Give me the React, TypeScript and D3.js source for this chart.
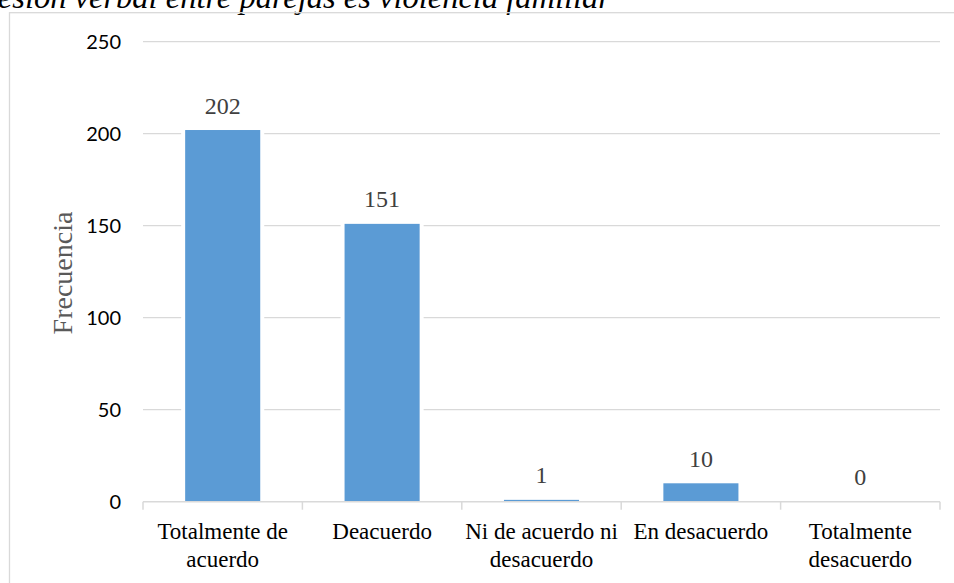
import React from "react";
import * as d3 from "d3";

const categories: string[][] = [
  ["Totalmente de", "acuerdo"],
  ["Deacuerdo"],
  ["Ni de acuerdo ni", "desacuerdo"],
  ["En desacuerdo"],
  ["Totalmente", "desacuerdo"],
];
const values: number[] = [202, 151, 1, 10, 0];
const yTicks: number[] = [0, 50, 100, 150, 200, 250];
const titleText = "Figura 1. La agresión verbal entre parejas es violencia familiar";
const yTitle = "Frecuencia";

export default function App() {
  const W = 954, H = 583;
  const x0 = 143, x1 = 940, yTop = 41.7, yBase = 501.7;
  const keys = categories.map((_, i) => String(i));
  const x = d3.scaleBand<string>().domain(keys).range([x0, x1]).paddingInner(0.529).paddingOuter(0.2645);
  const y = d3.scaleLinear().domain([0, 250]).range([yBase, yTop]);
  const step = x.step();
  const bw = x.bandwidth();
  const serif = "'Liberation Serif', 'Times New Roman', serif";
  const sans = "Lato, 'Liberation Sans', sans-serif";
  return (
    <svg width={W} height={H} style={{ position: "fixed", left: 0, top: 0, background: "#fff" }}>
      <rect x={0} y={0} width={W} height={H} fill="#fff" />
      <text x={611} y={7.5} textAnchor="end" fontFamily={serif} fontStyle="italic" fontSize={32.5} fill="#000">
        {titleText}
      </text>
      <rect x={9.5} y={12.7} width={1000} height={700} fill="none" stroke="#d9d9d9" strokeWidth={1.3} />
      {yTicks.map((t) => (
        <g key={t}>
          {t > 0 && <line x1={x0} x2={x1} y1={y(t)} y2={y(t)} stroke="#d9d9d9" strokeWidth={1.3} />}
          <text x={121} y={y(t)} dy="0.35em" textAnchor="end" fontFamily={sans} fontSize={20} fill="#000">
            {t}
          </text>
        </g>
      ))}
      <text
        transform={`translate(72,273) rotate(-90)`}
        textAnchor="middle"
        fontFamily={serif}
        fontSize={28}
        fill="#595959"
      >
        {yTitle}
      </text>
      {values.map((v, i) => {
        const bx = x(String(i))!;
        return (
          <g key={i}>
            {v > 0 && <rect x={bx - 4} y={y(v)} width={bw + 8} height={yBase - y(v)} fill="#fff" />}
            <rect x={bx} y={y(v)} width={bw} height={yBase - y(v)} fill="#5b9bd5" />
            <text x={bx + bw / 2} y={y(v) - 16.5} textAnchor="middle" fontFamily={serif} fontSize={24} fill="#404040">
              {v}
            </text>
          </g>
        );
      })}
      <line x1={x0} x2={x1} y1={yBase} y2={yBase} stroke="#d9d9d9" strokeWidth={1.5} />
      {d3.range(categories.length + 1).map((i) => (
        <line key={i} x1={x0 + i * step} x2={x0 + i * step} y1={yBase} y2={yBase + 8} stroke="#d9d9d9" strokeWidth={1.5} />
      ))}
      {categories.map((lines, i) => (
        <text key={i} textAnchor="middle" fontFamily={serif} fontSize={23} fill="#000">
          {lines.map((l, j) => (
            <tspan key={j} x={x(String(i))! + bw / 2} y={539.3 + j * 27.5}>
              {l}
            </tspan>
          ))}
        </text>
      ))}
    </svg>
  );
}
